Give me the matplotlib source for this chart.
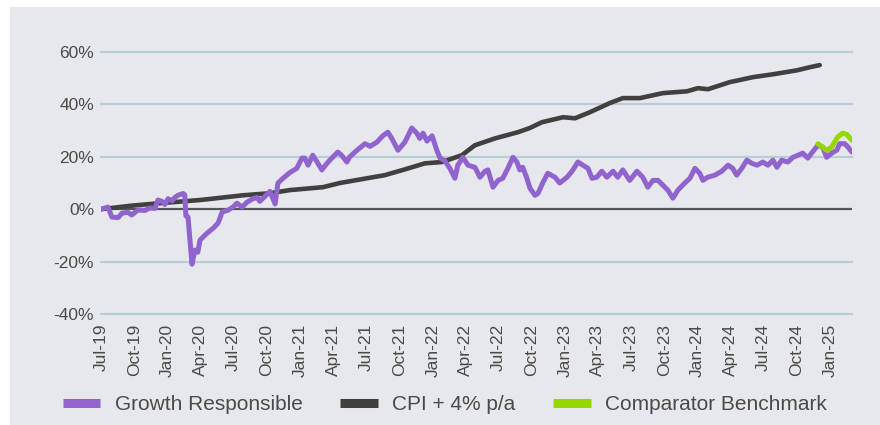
import matplotlib.pyplot as plt
import matplotlib.dates as mdates
import matplotlib.patches as mpatches
import numpy as np
import pandas as pd

# Growth Responsible cumulative return (%)
GR_DATES = [
    "2019-07-01", "2019-07-20", "2019-07-31", "2019-08-17", "2019-08-28", "2019-09-13",
    "2019-09-24", "2019-10-11", "2019-10-30", "2019-11-13", "2019-11-27", "2019-12-05",
    "2019-12-16", "2019-12-24", "2020-01-02", "2020-01-13", "2020-01-21", "2020-01-29",
    "2020-02-12", "2020-02-17", "2020-02-20", "2020-02-26", "2020-03-08", "2020-03-16",
    "2020-03-24", "2020-03-30", "2020-04-18", "2020-05-05", "2020-05-19", "2020-05-30",
    "2020-06-15", "2020-06-29", "2020-07-10", "2020-07-24", "2020-08-07", "2020-08-23",
    "2020-09-03", "2020-09-11", "2020-10-09", "2020-10-23", "2020-10-31", "2020-11-14",
    "2020-12-03", "2020-12-22", "2021-01-05", "2021-01-13", "2021-01-22", "2021-02-04",
    "2021-02-16", "2021-03-01", "2021-03-15", "2021-04-01", "2021-04-14", "2021-04-25",
    "2021-05-09", "2021-05-17", "2021-06-06", "2021-06-28", "2021-07-12", "2021-07-31",
    "2021-08-16", "2021-08-30", "2021-09-10", "2021-09-27", "2021-10-16", "2021-11-04",
    "2021-11-18", "2021-11-26", "2021-12-05", "2021-12-16", "2021-12-30", "2022-01-12",
    "2022-01-21", "2022-02-03", "2022-02-17", "2022-03-03", "2022-03-11", "2022-03-25",
    "2022-04-08", "2022-04-27", "2022-05-11", "2022-05-25", "2022-06-02", "2022-06-16",
    "2022-06-30", "2022-07-13", "2022-07-27", "2022-08-10", "2022-08-21", "2022-08-29",
    "2022-09-06", "2022-09-17", "2022-09-26", "2022-10-10", "2022-10-18", "2022-11-01",
    "2022-11-14", "2022-12-04", "2022-12-17", "2023-01-06", "2023-01-20", "2023-02-05",
    "2023-02-19", "2023-03-05", "2023-03-16", "2023-03-29", "2023-04-12", "2023-04-26",
    "2023-05-13", "2023-05-26", "2023-06-09", "2023-06-28", "2023-07-18", "2023-08-03",
    "2023-08-17", "2023-08-31", "2023-09-14", "2023-09-27", "2023-10-11", "2023-10-25",
    "2023-11-08", "2023-11-27", "2023-12-11", "2023-12-25", "2024-01-07", "2024-01-16",
    "2024-01-29", "2024-02-18", "2024-03-08", "2024-03-25", "2024-04-07", "2024-04-18",
    "2024-05-02", "2024-05-16", "2024-05-30", "2024-06-13", "2024-06-29", "2024-07-13",
    "2024-07-27", "2024-08-07", "2024-08-20", "2024-09-06", "2024-09-20", "2024-10-04",
    "2024-10-17", "2024-10-31", "2024-11-14", "2024-11-28", "2024-12-11", "2024-12-22",
    "2025-01-05", "2025-01-19", "2025-01-27", "2025-02-10", "2025-02-19", "2025-03-02",
]
GR_VALUES = [
    0.0, 0.8, -3.0, -3.2, -1.5, -1.2,
    -2.2, -0.3, -0.5, 0.5, 0.3, 3.5,
    3.0, 1.8, 4.0, 3.2, 4.5, 5.3,
    6.0, 5.5, -2.5, -3.0, -21.0, -15.6,
    -16.4, -11.8, -9.2, -7.3, -5.3, -1.1,
    -0.4, 0.8, 2.3, 0.8, 2.7, 4.0,
    4.5, 3.0, 6.8, 2.0, 10.0, 11.8,
    14.0, 15.6, 19.5, 19.5, 16.8, 20.6,
    18.0, 15.0, 17.5, 20.0, 21.8, 20.5,
    18.0, 20.0, 22.5, 25.0, 24.0, 25.6,
    28.0, 29.4, 27.0, 22.5, 25.6, 31.0,
    29.0, 27.0, 29.0, 26.0, 28.0, 22.5,
    19.5, 18.5, 15.6, 11.8, 16.8, 19.8,
    16.8, 16.0, 12.2, 14.5, 15.0, 8.4,
    11.0, 11.8, 15.6, 19.8, 18.0, 15.0,
    16.0, 12.0, 8.0, 5.3, 6.0, 10.3,
    13.7, 12.2, 10.0, 12.2, 14.5, 18.0,
    16.8, 15.6, 11.8, 12.2, 14.5, 12.2,
    14.5, 12.2, 15.0, 11.0, 14.5, 12.2,
    8.4, 11.0, 11.0, 9.2, 7.3, 4.2,
    7.3, 10.0, 11.8, 15.6, 13.7, 11.0,
    12.2, 13.0, 14.5, 16.8, 15.6, 13.0,
    15.6, 18.7, 17.5, 16.8, 18.0, 16.8,
    18.7, 16.0, 18.7, 18.0, 19.8, 20.6,
    21.4, 19.5, 22.0, 24.4, 23.7, 19.8,
    21.4, 22.5, 25.0, 25.0, 23.7, 21.8,
]

# CPI + 4% p/a cumulative (%)
CPI_DATES = [
    "2019-07-01", "2019-09-19", "2019-12-11", "2020-03-30", "2020-07-26", "2020-10-09",
    "2020-12-03", "2021-03-04", "2021-04-20", "2021-07-03", "2021-08-22", "2021-10-16",
    "2021-12-10", "2022-01-26", "2022-03-22", "2022-04-27", "2022-06-21", "2022-08-24",
    "2022-09-26", "2022-10-29", "2022-12-26", "2023-01-28", "2023-03-10", "2023-05-04",
    "2023-06-09", "2023-07-26", "2023-09-27", "2023-12-03", "2024-01-02", "2024-01-30",
    "2024-03-30", "2024-06-02", "2024-07-27", "2024-10-01", "2024-11-06", "2024-12-03",
]
CPI_VALUES = [
    0.0, 1.3, 2.3, 3.5, 5.3, 6.1,
    7.3, 8.4, 10.0, 11.8, 13.0, 15.2,
    17.5, 18.0, 20.6, 24.4, 27.0, 29.4,
    31.0, 33.2, 35.1, 34.7, 37.0, 40.5,
    42.4, 42.4, 44.3, 45.0, 46.2, 45.8,
    48.5, 50.4, 51.5, 53.0, 54.2, 55.0,
]

# Comparator Benchmark (%)
CB_DATES = [
    "2024-11-28", "2024-12-11", "2024-12-22", "2025-01-05", "2025-01-13",
    "2025-01-21", "2025-02-04", "2025-02-15", "2025-03-02",
]
CB_VALUES = [25.0, 23.7, 22.5, 23.7, 25.6, 27.5, 29.0, 28.6, 26.3]

Y_TICKS = [-40, -20, 0, 20, 40, 60]

BG = "#E7E8ED"
PURPLE = "#9063CD"
DARK = "#404040"
GREEN = "#97D700"
GRID = "#BACDD7"
TEXT = "#4A4A4A"


def main() -> None:
    plt.rcParams["font.family"] = ["Liberation Sans", "DejaVu Sans"]

    gr_x = pd.to_datetime(GR_DATES)
    cpi_x = pd.to_datetime(CPI_DATES)
    cb_x = pd.to_datetime(CB_DATES)

    fig = plt.figure(figsize=(8.8, 4.25), dpi=100, facecolor="white")
    fig.patches.append(
        mpatches.Rectangle((10 / 880, 0), 1, (425 - 7) / 425,
                           transform=fig.transFigure, facecolor=BG,
                           edgecolor="none", zorder=-10)
    )
    ax = fig.add_axes([101 / 880, (425 - 314) / 425, (852 - 101) / 880, (314 - 52) / 425])
    ax.set_facecolor("none")

    for y in Y_TICKS:
        if y == 0:
            continue
        ax.axhline(y, color=GRID, linewidth=1.6, zorder=1, clip_on=False)
    ax.axhline(0, color="#555555", linewidth=1.6, zorder=2)

    ax.plot(cpi_x, CPI_VALUES, color=DARK, linewidth=3.3, zorder=3,
            solid_capstyle="round", label="CPI + 4% p/a")
    ax.plot(gr_x, GR_VALUES, color=PURPLE, linewidth=3.6, zorder=4,
            solid_joinstyle="round", solid_capstyle="round",
            label="Growth Responsible")
    ax.plot(cb_x, CB_VALUES, color=GREEN, linewidth=3.6, zorder=5,
            solid_joinstyle="round", solid_capstyle="round",
            label="Comparator Benchmark")

    ax.set_xlim(gr_x[0], gr_x[-1])
    ax.set_ylim(-40, 60)
    ax.set_yticks(Y_TICKS)
    ax.set_yticklabels([f"{v}%" for v in Y_TICKS])

    ax.xaxis.set_major_locator(mdates.MonthLocator(bymonth=[1, 4, 7, 10]))
    ax.xaxis.set_major_formatter(mdates.DateFormatter("%b-%y"))
    ax.xaxis.set_minor_locator(mdates.MonthLocator(bymonth=[7]))
    ax.tick_params(axis="x", which="major", length=0, pad=7, rotation=90,
                   labelsize=12.5, labelcolor=TEXT)
    ax.tick_params(axis="x", which="minor", length=3.5, width=1.6, color="black")
    ax.tick_params(axis="y", length=0, pad=5, labelsize=12.5, labelcolor=TEXT)

    for s in ax.spines.values():
        s.set_visible(False)

    handles, labels = ax.get_legend_handles_labels()
    order = [1, 0, 2]
    leg = fig.legend(
        [handles[i] for i in order], [labels[i] for i in order],
        loc="center", bbox_to_anchor=(445 / 880, (425 - 405) / 425),
        ncol=3, frameon=False, fontsize=15, handlelength=1.8,
        handletextpad=0.7, columnspacing=1.8,
    )
    for line in leg.get_lines():
        line.set_linewidth(6.5)
        line.set_solid_capstyle("butt")
    for t in leg.get_texts():
        t.set_color(TEXT)

    fig.savefig("out.png", dpi=100, facecolor=fig.get_facecolor())


if __name__ == "__main__":
    main()
